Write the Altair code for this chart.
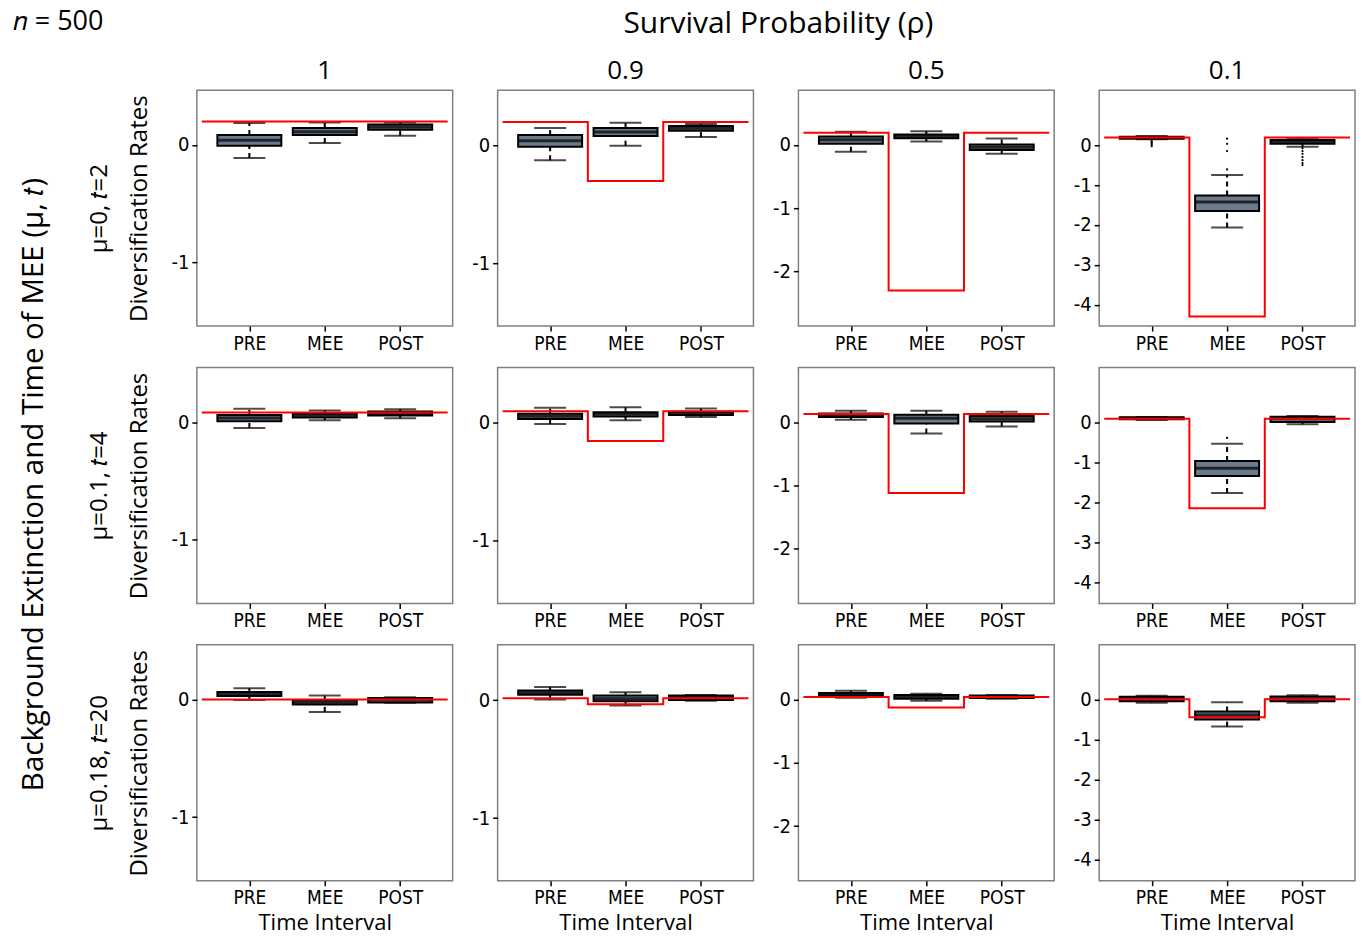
import json
import altair as alt
import pandas as pd

# ---------------- data ----------------
intervals = ["PRE", "MEE", "POST"]
rho_labels = ["1", "0.9", "0.5", "0.1"]
row_labels = ["μ=0, 𝑡=2", "μ=0.1, 𝑡=4", "μ=0.18, 𝑡=20"]

y_domains = [[-1.54, 0.465], [-1.53, 0.47], [-2.86, 0.86], [-4.53, 1.37]]
y_ticks = [[-1, 0], [-1, 0], [-2, -1, 0], [-4, -3, -2, -1, 0]]
x_domain = [0.37, 3.63]

# box statistics per panel (row-major), each [PRE, MEE, POST]
whisk_lo = [
    [-0.11, 0.017, 0.079],
    [-0.124, 0.0, 0.073],
    [-0.11, 0.052, -0.142],
    [0.145, -2.06, -0.04],
    [-0.048, 0.017, 0.034],
    [-0.008, 0.023, 0.051],
    [0.037, -0.179, -0.068],
    [0.06, -1.77, -0.05],
    [-0.003, -0.105, -0.028],
    [0.006, -0.045, -0.003],
    [0.026, -0.021, 0.011],
    [-0.075, -0.675, -0.075],
]
q1 = [
    [-0.006, 0.085, 0.13],
    [-0.008, 0.082, 0.127],
    [0.016, 0.105, -0.084],
    [0.16, -1.65, 0.033],
    [0.0085, 0.04, 0.057],
    [0.034, 0.054, 0.068],
    [0.079, -0.021, 0.01],
    [0.075, -1.34, 0.01],
    [0.031, -0.042, -0.025],
    [0.048, -0.008, 0.003],
    [0.063, 0.011, 0.021],
    [-0.04, -0.5, -0.04],
]
med = [
    [0.04, 0.113, 0.153],
    [0.042, 0.116, 0.147],
    [0.079, 0.136, -0.037],
    [0.19, -1.425, 0.083],
    [0.037, 0.06, 0.074],
    [0.057, 0.074, 0.082],
    [0.11, 0.06, 0.053],
    [0.1, -1.15, 0.09],
    [0.048, -0.023, -0.003],
    [0.065, 0.014, 0.025],
    [0.084, 0.042, 0.042],
    [0.017, -0.383, 0.017],
]
q3 = [
    [0.085, 0.145, 0.173],
    [0.09, 0.15, 0.167],
    [0.131, 0.163, 0.005],
    [0.21, -1.26, 0.125],
    [0.0625, 0.074, 0.091],
    [0.079, 0.091, 0.096],
    [0.137, 0.116, 0.095],
    [0.125, -0.967, 0.14],
    [0.065, -0.003, 0.014],
    [0.082, 0.04, 0.04],
    [0.1, 0.069, 0.063],
    [0.07, -0.3, 0.08],
]
whisk_hi = [
    [0.187, 0.19, 0.19],
    [0.15, 0.195, 0.184],
    [0.205, 0.215, 0.10],
    [0.225, -0.75, 0.16],
    [0.114, 0.10, 0.11],
    [0.13, 0.133, 0.122],
    [0.179, 0.179, 0.163],
    [0.135, -0.533, 0.16],
    [0.096, 0.034, 0.02],
    [0.113, 0.068, 0.045],
    [0.137, 0.09, 0.069],
    [0.1, -0.067, 0.108],
]
true_rate = [
    [0.2, 0.2, 0.2],
    [0.2, -0.3, 0.2],
    [0.19, -2.3, 0.19],
    [0.19, -4.29, 0.19],
    [0.082, 0.082, 0.082],
    [0.099, -0.153, 0.099],
    [0.126, -1.12, 0.126],
    [0.092, -2.15, 0.092],
    [0.0, 0.0, 0.0],
    [0.017, -0.034, 0.017],
    [0.037, -0.127, 0.037],
    [0.008, -0.44, 0.008],
]
outlier_panel = [3] * 6 + [3] * 4 + [3] * 7 + [7]
outlier_interval = ["PRE"] * 6 + ["MEE"] * 4 + ["POST"] * 7 + ["MEE"]
outlier_value = [0.13, 0.10, 0.07, 0.04, 0.01, -0.03,
                 0.16, 0.03, -0.15, -0.61,
                 -0.08, -0.15, -0.22, -0.30, -0.38, -0.45, -0.50,
                 -0.39]

# ---------------- styling ----------------
FONT_T = "Open Sans, Lato, sans-serif"
FONT_L = "Liberation Sans Narrow, DejaVu Sans Condensed, sans-serif"
BOX_FILL = "#6C7B8B"
BOX_W = 64
CAP_W = 32

pos_of = {k: i + 1 for i, k in enumerate(intervals)}
x_label_expr = json.dumps(intervals) + "[datum.value - 1]"


def panel(r, c):
    i = r * 4 + c
    box = pd.DataFrame({
        "pos": [pos_of[k] for k in intervals],
        "interval": intervals,
        "lo": whisk_lo[i], "q1": q1[i], "med": med[i],
        "q3": q3[i], "hi": whisk_hi[i],
    })
    bounds = [(pos_of[intervals[k]] + pos_of[intervals[k + 1]]) / 2 for k in range(2)]
    red = pd.DataFrame({
        "x": [x_domain[0], bounds[0], bounds[1], x_domain[1]],
        "y": [true_rate[i][0], true_rate[i][1], true_rate[i][2], true_rate[i][2]],
    })
    outl = pd.DataFrame({
        "pos": [pos_of[k] for p, k in zip(outlier_panel, outlier_interval) if p == i],
        "value": [v for p, v in zip(outlier_panel, outlier_value) if p == i],
    })

    ytitle = [row_labels[r], "Diversification Rates"] if c == 0 else None
    xtitle = "Time Interval" if r == 2 else None

    yaxis = alt.Axis(values=y_ticks[c], labelExpr="'' + datum.value",
                     minExtent=24, maxExtent=24)
    xaxis = alt.Axis(values=[1, 2, 3], labelExpr=x_label_expr, labelPadding=3,
                     labelFontSize=19, minExtent=26, maxExtent=26)
    yscale = alt.Scale(domain=y_domains[c], nice=False, zero=False)
    xscale = alt.Scale(domain=x_domain, nice=False, zero=False)

    def X(f):
        return alt.X(f, type="quantitative", scale=xscale, axis=xaxis, title=xtitle)

    def Y(f):
        return alt.Y(f, type="quantitative", scale=yscale, axis=yaxis, title=ytitle)

    base = alt.Chart(box)
    w_lo = base.mark_rule(color="black", strokeWidth=2, strokeDash=[5, 4]).encode(
        x=X("pos"), y=Y("lo"), y2="q1")
    w_hi = base.mark_rule(color="black", strokeWidth=2, strokeDash=[5, 4]).encode(
        x=X("pos"), y=Y("q3"), y2="hi")
    c_lo = base.mark_tick(orient="horizontal", size=CAP_W, thickness=2, color="black").encode(
        x=X("pos"), y=Y("lo"))
    c_hi = base.mark_tick(orient="horizontal", size=CAP_W, thickness=2, color="black").encode(
        x=X("pos"), y=Y("hi"))
    boxes = base.mark_bar(size=BOX_W, fill=BOX_FILL, stroke="black", strokeWidth=2).encode(
        x=X("pos"), y=Y("q1"), y2="q3")
    meds = base.mark_tick(orient="horizontal", size=BOX_W, thickness=3, color="black").encode(
        x=X("pos"), y=Y("med"))
    layers = [w_lo, w_hi, c_lo, c_hi, boxes, meds]
    if len(outl):
        layers.append(alt.Chart(outl).mark_circle(size=5, color="black", opacity=1).encode(
            x=X("pos"), y=Y("value")))
    layers.append(alt.Chart(red).mark_line(color="red", strokeWidth=2,
                                           interpolate="step-after").encode(
        x=X("x"), y=Y("y")))
    ch = alt.layer(*layers).properties(width=256, height=236)
    if r == 0:
        ch = ch.properties(title=alt.TitleParams(rho_labels[c], fontSize=26, font=FONT_T,
                                                 fontWeight="normal", offset=6))
    return ch


panels = [panel(r, c) for r in range(3) for c in range(4)]

grid = alt.concat(
    *panels, columns=4, align="each",
    spacing={"row": 12.5, "column": 17},
    title=alt.TitleParams("Survival Probability (ρ)", fontSize=30, font=FONT_T,
                          fontWeight="normal", anchor="middle", frame="bounds",
                          offset=19, dx=57),
)

w1 = alt.vconcat(
    grid,
    title=alt.TitleParams("Background Extinction and Time of MEE (μ, 𝑡)", orient="left",
                          fontSize=29.5, font=FONT_T, fontWeight="normal",
                          anchor="middle", frame="bounds", offset=38, dx=-13),
)

chart = alt.vconcat(
    w1,
    title=alt.TitleParams("𝑛 = 500", anchor="start", frame="bounds", fontSize=27,
                          font=FONT_T, fontWeight="normal", offset=-27, dx=-6),
).configure_view(
    stroke="#808080", strokeWidth=1.5
).configure_axis(
    domain=False, grid=False, tickColor="black", tickSize=5, tickWidth=1.5,
    labelColor="black", labelFont=FONT_L, labelFontSize=20, labelPadding=3,
    titleFont=FONT_T, titleFontWeight="normal", titleFontSize=24, titleColor="black",
    titleLineHeight=40, titlePadding=21,
).configure_axisX(
    titleFontSize=22, titlePadding=6,
).configure_title(
    color="black"
).properties(
    padding={"left": 12, "top": 7, "right": 5, "bottom": 0}
)

chart.save("out.html", embed_options={"renderer": "svg", "actions": False})
